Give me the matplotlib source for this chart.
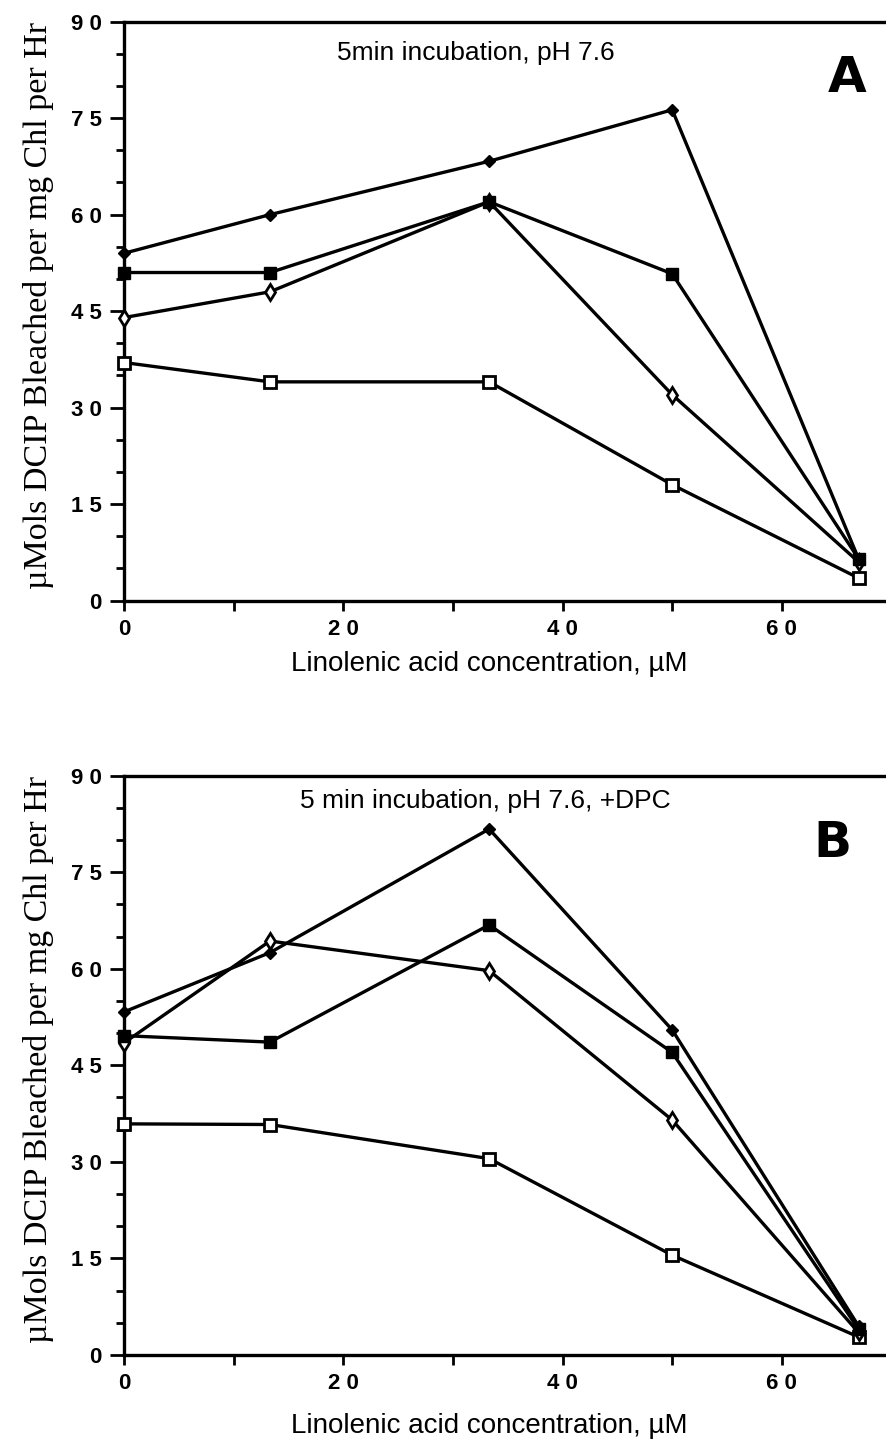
import matplotlib.pyplot as plt

conc = [0, 13.3, 33.3, 50, 67]

# panel A: 5 min incubation, pH 7.6
a_filled_diamond = [54, 60, 68.3, 76.3, 6.5]
a_filled_square = [51, 51, 62, 50.8, 6.5]
a_open_diamond = [44, 48, 62, 32, 6]
a_open_square = [37, 34, 34, 18, 3.5]

# panel B: 5 min incubation, pH 7.6, +DPC
b_filled_diamond = [53.3, 62.5, 81.7, 50.5, 4.5]
b_filled_square = [49.6, 48.6, 66.8, 47, 4]
b_open_diamond = [48.5, 64.3, 59.7, 36.5, 3.5]
b_open_square = [35.9, 35.8, 30.5, 15.5, 2.8]

y_ticks = [0, 15, 30, 45, 60, 75, 90]
x_ticks = [0, 20, 40, 60]

ylabel = 'µMols DCIP Bleached per mg Chl per Hr'
xlabel = 'Linolenic acid concentration, µM'

LW = 2.4


def spaced(v):
    # the digits in the original are set with a gap between them
    return ' '.join(str(v)) if v >= 10 else str(v)


def style_axes(ax, xlabel_y):
    ax.set_xlim(0, 69.6)
    ax.set_ylim(0, 90)
    ax.set_xticks(x_ticks)
    ax.set_xticks([10, 30, 50], minor=True)
    ax.set_yticks(y_ticks)
    ax.set_yticks([v for v in range(5, 90, 5) if v % 15], minor=True)
    ax.spines['right'].set_visible(False)
    for s in ['left', 'bottom', 'top']:
        ax.spines[s].set_linewidth(LW)
    ax.tick_params(which='major', axis='y', direction='out', length=10, width=2)
    ax.tick_params(which='minor', axis='y', direction='out', length=6, width=2)
    ax.tick_params(which='both', axis='x', direction='out', length=7, width=2)
    ax.tick_params(which='major', labelsize=16, pad=6)
    ax.set_yticklabels([spaced(v) for v in y_ticks],
                       family='Liberation Sans', fontweight='bold')
    ax.set_xticklabels([spaced(v) for v in x_ticks],
                       family='Liberation Sans', fontweight='bold')
    ax.set_ylabel(ylabel, family='Liberation Serif', fontsize=24.5)
    ax.yaxis.set_label_coords(-0.092, 0.51)
    ax.set_xlabel(xlabel, family='Liberation Sans', fontsize=20)
    ax.xaxis.set_label_coords(0.478, xlabel_y)


def draw_panel(ax, fd, fs, od, osq, note, note_xy, letter, letter_xy, xlabel_y):
    kw = dict(color='black', lw=LW, clip_on=False, zorder=3)
    ax.plot(conc, osq, marker='s', ms=8.5, mfc='white', mec='black', mew=2, **kw)
    ax.plot(conc, od, marker='d', ms=8, mfc='white', mec='black', mew=2, **kw)
    ax.plot(conc, fs, marker='s', ms=8.5, mfc='black', mec='black', **kw)
    ax.plot(conc, fd, marker='D', ms=6.5, mfc='black', mec='black', **kw)
    style_axes(ax, xlabel_y)
    ax.text(*note_xy, note, transform=ax.transAxes, ha='center', va='center',
            family='Liberation Sans', fontsize=19)
    ax.text(*letter_xy, letter, transform=ax.transAxes, ha='center', va='center',
            family='DejaVu Sans', fontsize=36, fontweight='heavy')


def main():
    fig = plt.figure(figsize=(8.87, 14.47), dpi=100)
    ax_a = fig.add_axes([0.14, 0.585, 0.86, 0.4])
    ax_b = fig.add_axes([0.14, 0.0636, 0.86, 0.4004])

    draw_panel(ax_a, a_filled_diamond, a_filled_square, a_open_diamond, a_open_square,
               '5min incubation, pH 7.6', (0.461, 0.946), 'A', (0.948, 0.903), -0.088)
    draw_panel(ax_b, b_filled_diamond, b_filled_square, b_open_diamond, b_open_square,
               '5 min incubation, pH 7.6, +DPC', (0.473, 0.957), 'B', (0.929, 0.884), -0.1)

    fig.savefig('out.png', dpi=100)
    plt.close(fig)


if __name__ == '__main__':
    main()
